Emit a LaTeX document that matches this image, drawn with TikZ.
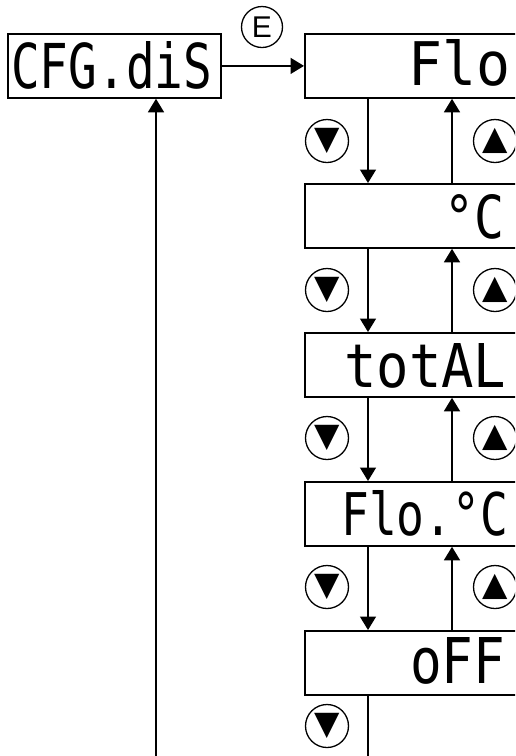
\documentclass[tikz,border=0pt]{standalone}
\usepackage{fontspec}
\usetikzlibrary{arrows.meta}
\newfontfamily\segfont{DejaVu Sans Mono}
\newfontfamily\symfont{DejaVu Sans}
\newfontfamily\efont{Liberation Sans}
\newcommand\segtext[3]{\resizebox{#1}{#2}{\segfont #3}}
\begin{document}
\begin{tikzpicture}[x=1pt,y=-1pt,
  box/.style={draw, line width=1.8pt, rectangle, minimum height=64pt, inner sep=0pt, anchor=north west},
  conn/.style={line width=1.6pt, -{Triangle[length=13.5pt,width=16pt]}},
  keycirc/.style={circle, inner sep=0pt, font=\symfont\fontsize{33pt}{33pt}\selectfont},
  ring/.style={line width=1.3pt},
  seg/.style={anchor=base west, inner sep=0pt}]
\clip (0,0) rectangle (515,756);
\fill[white] (0,0) rectangle (515,756);
% boxes
\node[box, minimum width=213pt] (cfg) at (7,33) {};
\node[box, minimum width=260pt] (b1) at (304,33) {};
\node[box, minimum width=260pt] (b2) at (304,183) {};
\node[box, minimum width=260pt] (b3) at (304,332) {};
\node[box, minimum width=260pt] (b4) at (304,481) {};
\node[box, minimum width=260pt] (b5) at (304,630) {};
% display texts
\node[seg] (tcfg) at (11,88) {\segtext{201pt}{47pt}{CFG.diS}};
\node[seg] (t1) at (408,85) {\segtext{102pt}{46pt}{Flo}};
\node[seg] (t2) at (444,238) {\segtext{60pt}{44pt}{°C}};
\node[seg] (t3) at (344,387) {\segtext{162pt}{44pt}{totAL}};
\node[seg] (t4) at (341,535) {\segtext{167pt}{45pt}{Flo.°C}};
\node[seg] (t5) at (410,683) {\segtext{95pt}{46pt}{oFF}};
% E key
\node[circle, inner sep=0pt, font=\efont\fontsize{30pt}{30pt}\selectfont] (ekey) at (262,27) {E};
\draw[ring] (ekey.center) circle[radius=20.5pt];
% down / up keys
\node[keycirc] (d1) at (327,141) {▼};
\node[keycirc] (d2) at (327,290) {▼};
\node[keycirc] (d3) at (327,438) {▼};
\node[keycirc] (d4) at (327,587) {▼};
\node[keycirc] (d5) at (327,726) {▼};
\node[keycirc] (u1) at (495,141) {▲};
\node[keycirc] (u2) at (495,290) {▲};
\node[keycirc] (u3) at (495,438) {▲};
\node[keycirc] (u4) at (495,587) {▲};
\foreach \k in {d1,d2,d3,d4,d5,u1,u2,u3,u4}
  \draw[ring] (\k.center) circle[radius=21.5pt];
% connectors
\coordinate (dn) at (368,0);
\coordinate (up) at (452,0);
\coordinate (lr) at (368,790);
\coordinate (ll) at (156,790);
\draw[conn] (cfg.east) -- (b1.west);
\draw[conn] (b1.south -| dn) -- (b2.north -| dn);
\draw[conn] (b2.south -| dn) -- (b3.north -| dn);
\draw[conn] (b3.south -| dn) -- (b4.north -| dn);
\draw[conn] (b4.south -| dn) -- (b5.north -| dn);
\draw[conn] (b2.north -| up) -- (b1.south -| up);
\draw[conn] (b3.north -| up) -- (b2.south -| up);
\draw[conn] (b4.north -| up) -- (b3.south -| up);
\draw[conn] (b5.north -| up) -- (b4.south -| up);
\draw[conn] (b5.south -| dn) -- (lr) -- (ll) -- (cfg.south -| ll);
\end{tikzpicture}
\end{document}
